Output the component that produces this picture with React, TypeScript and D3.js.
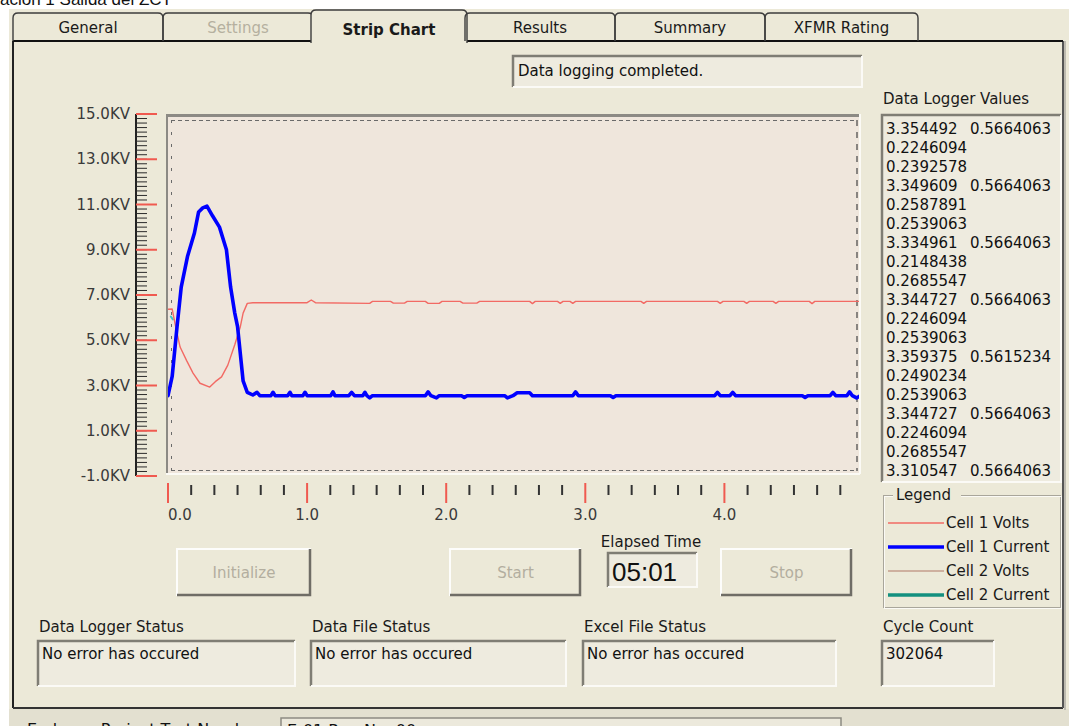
import React from "react";
import * as d3 from "d3";

const sans = "'DejaVu Sans', 'Liberation Sans', Arial, sans-serif";
const BG = "#ECE9D8";

// tabs across the top of the dialog
const tabNames = ["General", "Settings", "Strip Chart", "Results", "Summary", "XFMR Rating"];
const tabEdges = [13, 163, 313, 465, 615, 765, 918];
const selectedTab = 2;

// axis ticks
const yTickValues = [15, 13, 11, 9, 7, 5, 3, 1, -1];
const yTickLabels = ["15.0KV", "13.0KV", "11.0KV", "9.0KV", "7.0KV", "5.0KV", "3.0KV", "1.0KV", "-1.0KV"];
const xTickValues = [0, 1, 2, 3, 4];
const xTickLabels = ["0.0", "1.0", "2.0", "3.0", "4.0"];

// series, [elapsed time, KV]
const cell1Volts: [number, number][] = [
  [0, 6.37], [0.03, 6.38], [0.06, 5.45], [0.087, 4.7], [0.134, 4.1], [0.18, 3.55],
  [0.23, 3.1], [0.3, 2.93], [0.34, 3.17], [0.385, 3.38], [0.43, 3.9], [0.48, 4.8],
  [0.52, 5.6], [0.54, 6.2], [0.57, 6.63], [0.61, 6.66], [1.0, 6.66], [1.03, 6.78],
  [1.06, 6.66], [1.45, 6.63], [1.47, 6.72], [1.6, 6.72], [1.62, 6.64], [1.7, 6.64],
  [1.72, 6.72], [1.85, 6.72], [1.87, 6.63], [1.95, 6.63], [1.97, 6.72], [2.1, 6.72],
  [2.12, 6.64], [2.22, 6.64], [2.24, 6.72], [2.6, 6.72], [2.62, 6.62], [2.64, 6.72],
  [2.8, 6.72], [2.82, 6.63], [2.84, 6.72], [2.89, 6.72], [2.91, 6.63], [2.93, 6.72],
  [3.4, 6.72], [3.42, 6.63], [3.44, 6.72], [3.95, 6.72], [3.97, 6.63], [3.99, 6.72],
  [4.14, 6.72], [4.16, 6.63], [4.18, 6.72], [4.35, 6.72], [4.37, 6.63], [4.39, 6.72],
  [4.61, 6.72], [4.63, 6.62], [4.65, 6.72], [4.97, 6.72],
];

const cell1Current: [number, number][] = [
  [0, 2.55], [0.03, 3.4], [0.065, 5.6], [0.095, 7.35], [0.14, 8.7], [0.19, 9.74],
  [0.22, 10.67], [0.25, 10.85], [0.28, 10.93], [0.32, 10.5], [0.37, 10.0], [0.42, 9.0],
  [0.45, 7.35], [0.48, 6.2], [0.5, 5.6], [0.52, 4.4], [0.54, 3.2], [0.57, 2.7],
  [0.61, 2.58], [0.64, 2.7], [0.66, 2.55], [0.74, 2.55], [0.755, 2.7], [0.77, 2.55],
  [0.86, 2.55], [0.877, 2.7], [0.89, 2.55], [0.97, 2.55], [0.985, 2.7], [1.0, 2.55],
  [1.17, 2.55], [1.186, 2.72], [1.2, 2.55], [1.3, 2.55], [1.32, 2.7], [1.34, 2.55],
  [1.4, 2.55], [1.416, 2.7], [1.43, 2.55], [1.45, 2.45], [1.47, 2.55], [1.85, 2.55],
  [1.87, 2.72], [1.89, 2.55], [1.93, 2.45], [1.95, 2.55], [2.11, 2.55], [2.13, 2.47],
  [2.15, 2.55], [2.42, 2.55], [2.44, 2.45], [2.48, 2.55], [2.51, 2.68], [2.6, 2.68],
  [2.62, 2.55], [2.91, 2.55], [2.93, 2.72], [2.95, 2.55], [3.18, 2.55], [3.2, 2.47],
  [3.22, 2.55], [3.93, 2.55], [3.95, 2.7], [3.97, 2.55], [4.04, 2.55], [4.06, 2.7],
  [4.08, 2.55], [4.56, 2.55], [4.58, 2.47], [4.6, 2.55], [4.76, 2.55], [4.78, 2.7],
  [4.8, 2.55], [4.88, 2.55], [4.9, 2.72], [4.92, 2.55], [4.95, 2.45], [4.97, 2.52],
];

const cell2Current: [number, number][] = [[0.02, 6.05], [0.035, 5.92]];

// right hand list box
const loggerValues: string[][] = [
  ["3.354492", "0.5664063"], ["0.2246094"], ["0.2392578"],
  ["3.349609", "0.5664063"], ["0.2587891"], ["0.2539063"],
  ["3.334961", "0.5664063"], ["0.2148438"], ["0.2685547"],
  ["3.344727", "0.5664063"], ["0.2246094"], ["0.2539063"],
  ["3.359375", "0.5615234"], ["0.2490234"], ["0.2539063"],
  ["3.344727", "0.5664063"], ["0.2246094"], ["0.2685547"],
  ["3.310547", "0.5664063"],
];

const legendNames = ["Cell 1 Volts", "Cell 1 Current", "Cell 2 Volts", "Cell 2 Current"];
const legendColors = ["#f26a64", "#0000ff", "#c49c8c", "#14907f"];
const legendWidths = [1.6, 3.6, 1.6, 3.6];

const statusTitles = ["Data Logger Status", "Data File Status", "Excel File Status", "Cycle Count"];
const statusTexts = ["No error has occured", "No error has occured", "No error has occured", "302064"];
const statusBoxes = [[38, 295], [311, 566], [583, 836], [882, 994]];

const buttonNames = ["Initialize", "Start", "Stop"];
const buttonBoxes = [[177, 311], [450, 581], [721, 852]];

function Sunken({ x, y, w, h, fill = "#EEEBDF" }: any) {
  return (
    <g>
      <rect x={x} y={y} width={w} height={h} fill={fill} />
      <path d={`M${x},${y + h} V${y} H${x + w}`} fill="none" stroke="#7f7d74" strokeWidth={2.5} />
      <path d={`M${x + w},${y} V${y + h} H${x}`} fill="none" stroke="#fbfaf6" strokeWidth={2} />
    </g>
  );
}

function Button({ x0, x1, y0, y1, label }: any) {
  return (
    <g>
      <rect x={x0} y={y0} width={x1 - x0} height={y1 - y0} fill={BG} />
      <path d={`M${x0},${y1} V${y0} H${x1}`} fill="none" stroke="#fdfdfb" strokeWidth={2} />
      <path d={`M${x1 - 1},${y0} V${y1 - 1} H${x0}`} fill="none" stroke="#6f6d66" strokeWidth={2.5} />
      <text x={(x0 + x1) / 2} y={(y0 + y1) / 2 + 5} textAnchor="middle" fontSize={15} fill="#b3ae9f">{label}</text>
    </g>
  );
}

export default function App() {
  const x = d3.scaleLinear().domain([0, 5]).range([168, 863.5]);
  const y = d3.scaleLinear().domain([-1, 15]).range([476, 114]);

  const line = d3.line<[number, number]>().x((d) => x(d[0])).y((d) => y(d[1]));

  const yMinor = d3.range(-1, 15.001, 0.2);
  const xMinor = d3.range(0, 4.95, 1 / 6).filter((t) => Math.abs(t - Math.round(t)) > 0.01);

  const plot = { x0: 166, x1: 860, y0: 114, y1: 474 };

  return (
    <div style={{ position: "absolute", left: 0, top: 0 }}>
      <svg width={1069} height={726} style={{ display: "block", fontFamily: sans }}>
        <rect width={1069} height={726} fill="#fff" />
        <text x={0} y={5} fontSize={17} fontFamily="'Liberation Sans', Arial, sans-serif" fill="#111">ación 1 Salida del ZCT</text>

        {/* dialog */}
        <rect x={9} y={9} width={1060} height={717} fill={BG} />
        <rect x={9} y={709} width={1060} height={17} fill="#e3e0d0" />
        <text x={27} y={735} fontSize={16} fill="#111">Embraer Project Test Number:</text>
        <rect x={281} y={718} width={560} height={14} fill="#ece9dc" stroke="#8d8b82" strokeWidth={1.5} />
        <text x={287} y={736} fontSize={16} fill="#111">E-01 Run No. 00</text>

        {/* panel */}
        <rect x={13} y={41} width={1050} height={667} fill={BG} />
        <line x1={13} y1={41} x2={13} y2={708} stroke="#222" strokeWidth={2} />
        <line x1={13} y1={708} x2={1063} y2={708} stroke="#333" strokeWidth={2} />
        <line x1={1063} y1={41} x2={1063} y2={708} stroke="#555" strokeWidth={2} />
        <line x1={1065} y1={41} x2={1065} y2={710} stroke="#bdbab0" strokeWidth={2} />
        <line x1={13} y1={41} x2={1063} y2={41} stroke="#111" strokeWidth={2} />

        {/* tabs */}
        {tabNames.map((name, i) => {
          const sel = i === selectedTab;
          const x0 = tabEdges[i] + (sel ? -2 : 0);
          const x1 = tabEdges[i + 1] + (sel ? 2 : 0);
          const top = sel ? 10 : 13;
          const bottom = sel ? 43 : 41;
          return (
            <g key={name}>
              {sel && <rect x={x0 + 1} y={top + 2} width={x1 - x0 - 2} height={bottom - top} fill={BG} />}
              <path
                d={`M${x0},${bottom} V${top + 5} Q${x0},${top} ${x0 + 5},${top} H${x1 - 5} Q${x1},${top} ${x1},${top + 5} V${bottom}`}
                fill={sel ? BG : "none"}
                stroke="#3c3c3c"
                strokeWidth={1.4}
              />
              <text
                x={(tabEdges[i] + tabEdges[i + 1]) / 2}
                y={sel ? 35 : 33}
                textAnchor="middle"
                fontSize={15}
                fontWeight={sel ? "bold" : "normal"}
                fill={i === 1 ? "#b5b09f" : "#1a1a1a"}
              >
                {name}
              </text>
            </g>
          );
        })}

        {/* status line */}
        <Sunken x={513} y={56} w={349} h={31} />
        <text x={518} y={76} fontSize={15} fill="#111">Data logging completed.</text>

        {/* plot frame */}
        <rect x={plot.x0} y={plot.y0} width={plot.x1 - plot.x0} height={plot.y1 - plot.y0} fill="#EFE6DC" />
        <line x1={plot.x0} y1={115.5} x2={plot.x1} y2={115.5} stroke="#8c8a84" strokeWidth={3} />
        <line x1={167} y1={plot.y0} x2={167} y2={plot.y1} stroke="#8c8a84" strokeWidth={2} />
        <line x1={plot.x0} y1={plot.y1} x2={plot.x1} y2={plot.y1} stroke="#fbfaf5" strokeWidth={2} />
        <line x1={plot.x1} y1={plot.y0} x2={plot.x1} y2={plot.y1} stroke="#fbfaf5" strokeWidth={2} />
        <line x1={171} y1={120.5} x2={857} y2={120.5} stroke="#6a6a6a" strokeWidth={1} strokeDasharray="4 3" />
        <line x1={171} y1={470.5} x2={857} y2={470.5} stroke="#6a6a6a" strokeWidth={1} strokeDasharray="4 3" />
        <line x1={171.5} y1={120} x2={171.5} y2={471} stroke="#6a6a6a" strokeWidth={1} strokeDasharray="3 9" />
        <line x1={857} y1={120} x2={857} y2={471} stroke="#444" strokeWidth={1.2} strokeDasharray="6 6" />

        <clipPath id="plotClip">
          <rect x={168} y={116} width={691} height={356} />
        </clipPath>
        <g clipPath="url(#plotClip)" fill="none" strokeLinejoin="round" strokeLinecap="round">
          <path d={line(cell2Current) || ""} stroke="#3fc8c8" strokeWidth={2} />
          <path d={line(cell1Volts) || ""} stroke={legendColors[0]} strokeWidth={1.4} />
          <path d={line(cell1Current) || ""} stroke={legendColors[1]} strokeWidth={3.6} />
        </g>

        {/* y axis ruler */}
        <line x1={136} y1={y(15)} x2={136} y2={y(-1)} stroke="#222" strokeWidth={2} />
        {yMinor.map((v, i) => (
          <line key={i} x1={136} y1={y(v)} x2={147} y2={y(v)} stroke="#2a2a2a" strokeWidth={1} />
        ))}
        {yTickValues.map((v, i) => (
          <g key={v}>
            <line x1={136} y1={y(v)} x2={157} y2={y(v)} stroke="#f05a50" strokeWidth={2} />
            <text x={130} y={y(v) + 5} textAnchor="end" fontSize={15} fill="#3a3a3a">{yTickLabels[i]}</text>
          </g>
        ))}

        {/* x axis ticks */}
        {xMinor.map((t, i) => (
          <line key={i} x1={x(t)} y1={485} x2={x(t)} y2={495} stroke="#333" strokeWidth={2} />
        ))}
        {xTickValues.map((t, i) => (
          <g key={t}>
            <line x1={x(t)} y1={483} x2={x(t)} y2={503} stroke="#f05a50" strokeWidth={2} />
            <text x={x(t) + (i === 0 ? 12 : 0)} y={520} textAnchor="middle" fontSize={15} fill="#3a3a3a">{xTickLabels[i]}</text>
          </g>
        ))}

        {/* data logger list */}
        <text x={883} y={104} fontSize={15} fill="#1a1a1a">Data Logger Values</text>
        <Sunken x={882} y={115} w={179} h={367} />
        {loggerValues.map((row, i) => (
          <g key={i}>
            <text x={886} y={134 + i * 19} fontSize={15} fill="#111">{row[0]}</text>
            {row[1] && <text x={970} y={134 + i * 19} fontSize={15} fill="#111">{row[1]}</text>}
          </g>
        ))}

        {/* legend */}
        <rect x={883.5} y={495.5} width={177} height={112} fill="none" stroke="#a9a69b" strokeWidth={1} />
        <rect x={884.5} y={496.5} width={177} height={112} fill="none" stroke="#fbfaf5" strokeWidth={1} />
        <rect x={893} y={487} width={68} height={16} fill={BG} />
        <text x={896} y={500} fontSize={15} fill="#1a1a1a">Legend</text>
        {legendNames.map((name, i) => {
          const ly = 523 + i * 24;
          return (
            <g key={name}>
              <line x1={888} y1={ly} x2={944} y2={ly} stroke={legendColors[i]} strokeWidth={legendWidths[i]} />
              <text x={946} y={ly + 5} fontSize={15} fill="#1a1a1a">{name}</text>
            </g>
          );
        })}

        {/* buttons and elapsed time */}
        {buttonNames.map((name, i) => (
          <Button key={name} x0={buttonBoxes[i][0]} x1={buttonBoxes[i][1]} y0={549} y1={596} label={name} />
        ))}
        <text x={651} y={547} textAnchor="middle" fontSize={15} fill="#1a1a1a">Elapsed Time</text>
        <Sunken x={608} y={553} w={89} h={34} />
        <text x={612} y={581} fontSize={26} fontFamily="'Liberation Sans', Arial, sans-serif" fill="#111">05:01</text>

        {/* status boxes */}
        {statusTitles.map((title, i) => {
          const [bx0, bx1] = statusBoxes[i];
          return (
            <g key={title}>
              <text x={bx0 + 1} y={632} fontSize={15} fill="#1a1a1a">{title}</text>
              <Sunken x={bx0} y={641} w={bx1 - bx0} h={45} />
              <text x={bx0 + 4} y={659} fontSize={15} fill="#111">{statusTexts[i]}</text>
            </g>
          );
        })}
      </svg>
    </div>
  );
}
